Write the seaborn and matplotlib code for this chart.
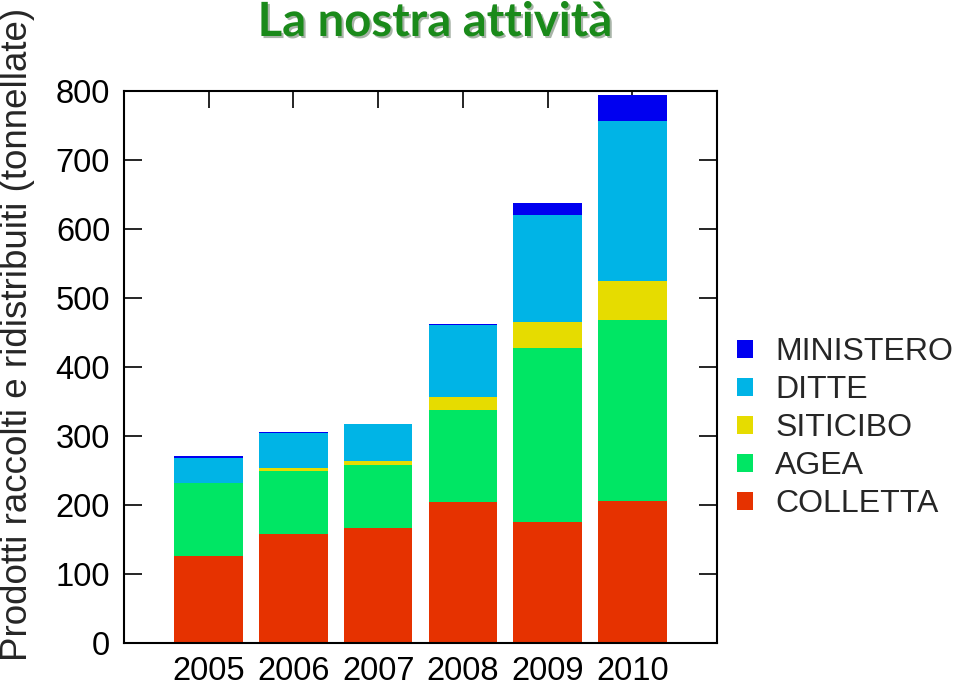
import numpy as np
import pandas as pd
import matplotlib
matplotlib.use("Agg")
import matplotlib.pyplot as plt
import matplotlib.patheffects as pe
from matplotlib.patches import Patch
import seaborn as sns

# Data (tonnellate)
years = ["2005", "2006", "2007", "2008", "2009", "2010"]
colletta = [126, 158, 166, 204, 176, 206]
agea = [106, 92, 92, 134, 251, 262]
siticibo = [0, 3, 6, 18, 38, 57]
ditte = [36, 52, 53, 105, 155, 232]
ministero = [3, 1, 1, 1, 18, 37]

series_names = ["COLLETTA", "AGEA", "SITICIBO", "DITTE", "MINISTERO"]
series_values = [colletta, agea, siticibo, ditte, ministero]
colors = ["#E63200", "#00E664", "#E6DC00", "#00B4E6", "#0000F0"]

sns.set_theme(style="white")
plt.rcParams['font.family'] = ['Liberation Sans', 'DejaVu Sans']

fig = plt.figure(figsize=(9.6, 6.85), dpi=100)
ax = fig.add_axes([0.1292, 0.0613, 0.6177, 0.8058])

# Stack the bars series by series
bottom = np.zeros(len(years))
for name, vals, col in zip(series_names, series_values, colors):
    df = pd.DataFrame({"anno": years, "valore": vals})
    sns.barplot(data=df, x="anno", y="valore", color=col, width=0.81,
                bottom=bottom, saturation=1, ax=ax, linewidth=0)
    bottom = bottom + np.array(vals)

ax.set_xlim(-1, 6)
ax.set_ylim(0, 800)
ax.set_yticks(np.arange(0, 801, 100))
ax.set_xlabel("")
ax.set_ylabel("")

for s in ax.spines.values():
    s.set_visible(True)
    s.set_color("black")
    s.set_linewidth(1.5)

ax.tick_params(axis="y", direction="in", length=13, width=1.2, left=True, right=True,
               labelsize=23.5, pad=10, colors="black")
ax.tick_params(axis="x", direction="in", length=12, width=1.2, top=True, bottom=False,
               labelsize=23.5, pad=9, colors="black")

fig.text(18 / 960, 0.512, "Prodotti raccolti e ridistribuiti (tonnellate)",
         rotation=90, ha="center", va="center", fontsize=26.5)

# Title
fig.text(435 / 960, 1 - 22 / 685, "La nostra attività", ha="center", va="center",
         fontsize=34, fontweight="bold", family=["Lato", "DejaVu Sans"], color="#1A8A1A",
         path_effects=[pe.SimplePatchShadow(offset=(1.5, -1.5), alpha=0.35), pe.Normal()])

# Legend, top entry is the top of the stack
handles = [Patch(facecolor=c, edgecolor="none", label=n)
           for n, c in zip(series_names[::-1], colors[::-1])]
fig.legend(handles=handles, loc="center left", bbox_to_anchor=(737 / 960, 1 - 428 / 685),
           frameon=False, fontsize=23, handlelength=0.5, handleheight=0.5,
           handletextpad=0.7, labelspacing=0.25, borderpad=0, borderaxespad=0)

fig.savefig("out.png", dpi=100)
